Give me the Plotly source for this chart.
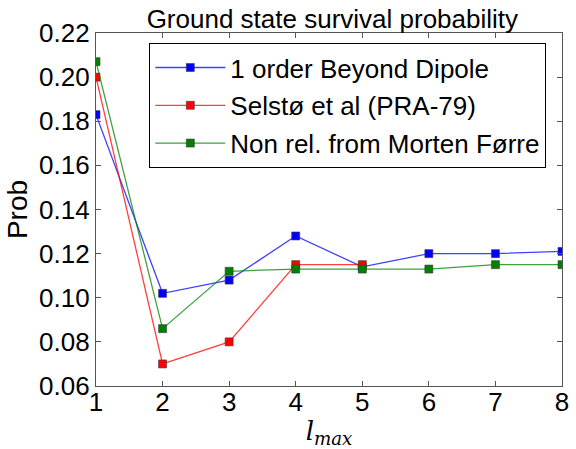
import plotly.graph_objects as go

lmax = [1, 2, 3, 4, 5, 6, 7, 8]
beyond_dipole = [0.183, 0.102, 0.108, 0.128, 0.114, 0.120, 0.120, 0.121]
lmax_selsto = [1, 2, 3, 4, 5]
selsto = [0.200, 0.070, 0.080, 0.115, 0.115]
forre = [0.207, 0.086, 0.112, 0.113, 0.113, 0.113, 0.115, 0.115]

names = ["1 order Beyond Dipole", "Selstø et al (PRA-79)", "Non rel. from Morten Førre"]
colors = ["#0000ff", "#ff0000", "#008000"]
line_colors = ["rgba(0,0,255,0.75)", "rgba(255,0,0,0.75)", "rgba(0,128,0,0.75)"]

fig = go.Figure()
for i, (xs, ys) in enumerate([(lmax, beyond_dipole), (lmax_selsto, selsto), (lmax, forre)]):
    fig.add_trace(go.Scatter(
        x=xs, y=ys, mode="lines+markers", name=names[i],
        legendgroup=str(i),
        line=dict(color=line_colors[i], width=1.3),
        marker=dict(symbol="square", size=8, color=colors[i],
                    line=dict(color="rgba(60,60,60,0.6)", width=1)),
    ))

font = "Liberation Sans, Arial, sans-serif"
axis_common = dict(
    showline=True, linecolor="#555555", linewidth=1.3, mirror="ticks",
    ticks="inside", ticklen=5, tickcolor="#555555",
    showgrid=False, zeroline=False,
    tickfont=dict(family=font, size=26, color="black"),
)

fig.update_layout(
    width=576, height=449,
    margin=dict(l=96, r=7, t=33, b=62),
    paper_bgcolor="white", plot_bgcolor="white",
    title=dict(text="Ground state survival probability", x=0.577, xanchor="center",
               y=0.958, yanchor="middle",
               font=dict(family=font, size=26, color="black")),
    xaxis=dict(range=[1, 8], tickvals=lmax, ticktext=[str(v) for v in lmax],
               title=dict(text="<i>l</i><sub><i>max</i></sub>", standoff=6,
                          font=dict(family="DejaVu Serif, serif", size=26, color="black")),
               ticklabelstandoff=-7, ticklabeloverflow="allow",
               **axis_common),
    yaxis=dict(range=[0.06, 0.22], tickvals=[0.06, 0.08, 0.10, 0.12, 0.14, 0.16, 0.18, 0.20, 0.22],
               ticktext=["0.06", "0.08", "0.10", "0.12", "0.14", "0.16", "0.18", "0.20", "0.22"],
               title=dict(text="Prob", standoff=3,
                          font=dict(family=font, size=28, color="black")),
               **axis_common),
    legend=dict(x=0.114, y=0.972, xanchor="left", yanchor="top",
                bordercolor="black", borderwidth=1.2, bgcolor="white",
                font=dict(family=font, size=26, color="black"),
                tracegroupgap=1, itemwidth=70),
    showlegend=True,
)

fig.write_html("out.html")
